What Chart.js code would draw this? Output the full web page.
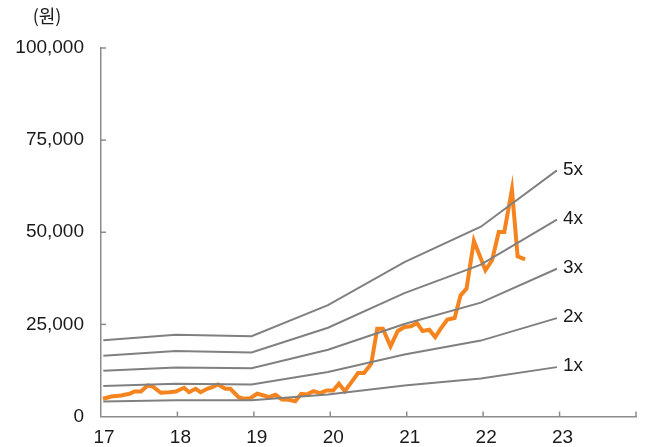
<!DOCTYPE html>
<html>
<head>
<meta charset="utf-8">
<script src="https://cdn.jsdelivr.net/npm/chart.js@4.4.1/dist/chart.umd.min.js"></script>
<style>
  html, body { margin: 0; padding: 0; background: #ffffff; }
  #wrap { width: 646px; height: 447px; position: relative; }
</style>
</head>
<body>
<div id="wrap"><canvas id="c" width="646" height="447"></canvas></div>
<script>
// ---- data ----
const unitLabel = '(원)';
const xTickValues = [17, 18, 19, 20, 21, 22, 23, 24];
const xTickLabels = ['17', '18', '19', '20', '21', '22', '23', ''];
const yTickValues = [0, 25000, 50000, 75000, 100000];

const priceX = [17.026,17.134,17.264,17.373,17.438,17.523,17.610,17.675,17.783,17.892,
  17.978,18.087,18.152,18.238,18.303,18.390,18.455,18.529,18.627,18.692,
  18.801,18.866,18.952,19.043,19.130,19.195,19.282,19.368,19.455,19.542,
  19.619,19.692,19.779,19.866,19.952,20.039,20.113,20.191,20.277,20.364,
  20.442,20.536,20.614,20.688,20.788,20.883,20.970,21.056,21.134,21.208,
  21.295,21.373,21.445,21.532,21.627,21.705,21.783,21.879,22.030,22.117,
  22.204,22.277,22.377,22.451,22.549];
const priceY = [4810,5430,5710,6170,6790,6790,8420,8150,6440,6600,
  6790,7800,6600,7530,6600,7530,7960,8700,7530,7530,
  5240,4810,4970,6170,5710,5240,5900,4620,4530,4160,
  6170,5980,6880,6330,7070,7070,8890,6880,9330,11800,
  11800,14320,23830,23830,19020,23200,24300,24460,25350,23180,
  23560,21550,23830,26280,26710,32880,34700,47630,39670,42390,
  50080,50080,61600,43480,42660];

const bandX = [17.03, 17.98, 18.97, 19.97, 20.97, 21.97, 22.965];
const band1x = [4100, 4400, 4400, 6000, 8400, 10300, 13400];
const band2x = [8300, 8900, 8700, 12100, 16800, 20600, 26700];
const band3x = [12400, 13300, 13100, 18100, 25100, 30900, 40100];
const band4x = [16500, 17800, 17400, 24100, 33500, 41200, 53400];
const band5x = [20700, 22200, 21800, 30200, 41900, 51500, 66800];
const bandNames = ['1x', '2x', '3x', '4x', '5x'];

// ---- styles ----
const FONT = "'Liberation Sans', Arial, 'Noto Sans CJK KR', sans-serif";
const TEXT = '#1a1a1a';
const AXIS = '#8c8c8c';
const GREY = '#808080';
const ORANGE = '#f5841f';

const toPts = (xs, ys) => xs.map((x, i) => ({ x: x, y: ys[i] }));
const bands = [band1x, band2x, band3x, band4x, band5x];

const datasets = bands.map((b, i) => ({
  label: bandNames[i],
  data: toPts(bandX, b),
  borderColor: GREY,
  borderWidth: 2,
  pointRadius: 0,
  tension: 0,
  isBand: true
}));
datasets.push({
  label: 'price',
  data: toPts(priceX, priceY),
  borderColor: ORANGE,
  borderWidth: 4,
  pointRadius: 0,
  tension: 0
});

const extras = {
  id: 'extras',
  afterDraw(chart) {
    const { ctx, scales: { x, y } } = chart;
    ctx.save();
    // inside tick marks
    ctx.strokeStyle = AXIS;
    ctx.lineWidth = 1.5;
    yTickValues.forEach(v => {
      if (v === 0) return;
      const py = y.getPixelForValue(v);
      ctx.beginPath(); ctx.moveTo(x.left, py); ctx.lineTo(x.left + 5, py); ctx.stroke();
    });
    xTickValues.forEach(v => {
      if (v === xTickValues[0]) return;
      const px = x.getPixelForValue(v);
      ctx.beginPath(); ctx.moveTo(px, y.bottom); ctx.lineTo(px, y.bottom - 5); ctx.stroke();
    });
    // unit label
    ctx.fillStyle = TEXT;
    ctx.font = "18px 'Noto Sans CJK KR', " + FONT;
    ctx.textAlign = 'center';
    ctx.textBaseline = 'middle';
    ctx.fillText(unitLabel, 47, 16);
    // band labels
    ctx.font = '19px ' + FONT;
    ctx.textAlign = 'left';
    chart.data.datasets.forEach((ds, i) => {
      if (!ds.isBand) return;
      const meta = chart.getDatasetMeta(i);
      const last = meta.data[meta.data.length - 1];
      ctx.fillText(ds.label, last.x + 6, last.y - 1);
    });
    ctx.restore();
  }
};

new Chart(document.getElementById('c'), {
  type: 'line',
  data: { datasets: datasets },
  options: {
    responsive: false,
    animation: false,
    devicePixelRatio: 1,
    layout: { padding: { left: 0, right: 7, top: 48, bottom: 0 } },
    plugins: { legend: { display: false }, tooltip: { enabled: false } },
    scales: {
      x: {
        type: 'linear',
        min: 17, max: 24,
        afterBuildTicks(s) { s.ticks = xTickValues.map(v => ({ value: v })); },
        afterFit(s) { s.height = 30.5; },
        grid: { display: false, drawTicks: false },
        border: { display: true, color: AXIS, width: 1.5 },
        ticks: {
          padding: 10,
          labelOffset: 3,
          color: TEXT,
          font: { family: FONT, size: 19 },
          maxRotation: 0,
          autoSkip: false,
          callback: (v) => { const i = xTickValues.indexOf(v); return i >= 0 ? xTickLabels[i] : ''; }
        }
      },
      y: {
        min: 0, max: 100000,
        afterBuildTicks(s) { s.ticks = yTickValues.map(v => ({ value: v })); },
        afterFit(s) { s.width = 101; },
        grid: { display: false, drawTicks: false },
        border: { display: true, color: AXIS, width: 1.5 },
        ticks: {
          padding: 17,
          color: TEXT,
          font: { family: FONT, size: 19 },
          callback: (v) => v.toLocaleString('en-US')
        }
      }
    }
  },
  plugins: [extras]
});
</script>
</body>
</html>
